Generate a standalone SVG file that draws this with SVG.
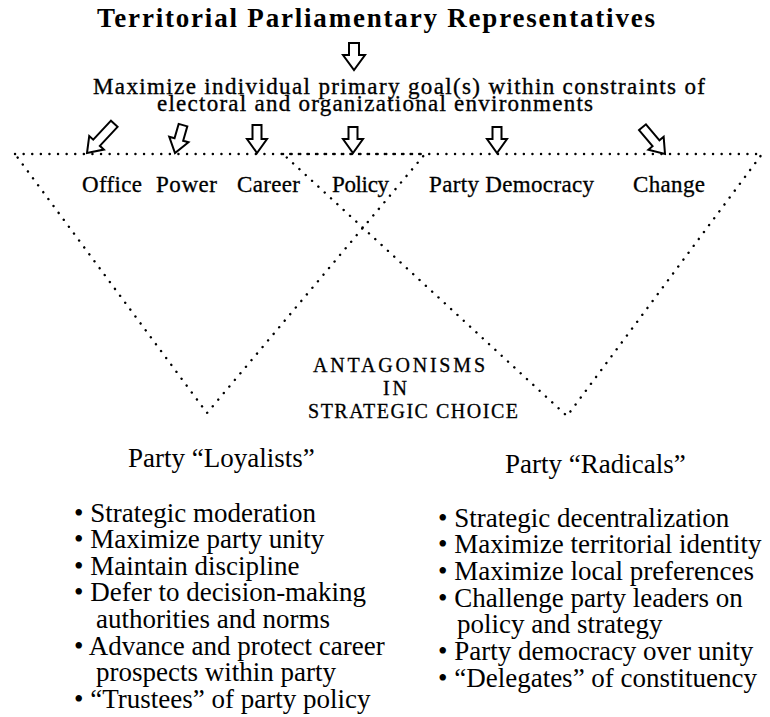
<svg xmlns="http://www.w3.org/2000/svg" width="770" height="717" viewBox="0 0 770 717">
<style>
  .title { font-family: "Liberation Serif", "Times New Roman", serif; font-weight: bold; font-size: 27px; fill: #000; }
  .head { font-family: "Liberation Serif", "Times New Roman", serif; font-size: 23px; fill: #000; stroke: #000; stroke-width: 0.35; }
  .goal { font-family: "Liberation Serif", "Times New Roman", serif; font-size: 23px; fill: #000; stroke: #000; stroke-width: 0.3; }
  .caps { font-family: "Liberation Serif", "Times New Roman", serif; font-size: 20px; fill: #000; stroke: #000; stroke-width: 0.3; }
  .body { font-family: "Liberation Serif", "Times New Roman", serif; font-size: 27px; fill: #000; }
  .tri { fill: none; stroke: #000; stroke-width: 2.4; stroke-linecap: round; stroke-dasharray: 0.1 8.5; }
  .arr { fill: #fff; stroke: #000; stroke-width: 2; stroke-linejoin: miter; }
</style>
<rect width="770" height="717" fill="#fff"/>

<g id="title">
  <text class="title" x="97" y="27" textLength="558" lengthAdjust="spacing">Territorial Parliamentary Representatives</text>
</g>

<g id="goal-statement">
  <text class="head" x="93" y="94" textLength="612" lengthAdjust="spacing">Maximize individual primary goal(s) within constraints of</text>
  <text class="head" x="157" y="111" textLength="436" lengthAdjust="spacing">electoral and organizational environments</text>
</g>

<g id="triangles">
  <polygon id="triangle-loyalists" class="tri" points="15,154 425,154 207,413"/>
  <polygon id="triangle-radicals" class="tri" points="283,154 762,154 567,416"/>
</g>

<g id="goals">
  <g id="goal-office"><text class="goal" x="82" y="192" textLength="60" lengthAdjust="spacing">Office</text></g>
  <g id="goal-power"><text class="goal" x="156" y="192" textLength="61" lengthAdjust="spacing">Power</text></g>
  <g id="goal-career"><text class="goal" x="237" y="192" textLength="63" lengthAdjust="spacing">Career</text></g>
  <g id="goal-policy"><text class="goal" x="332" y="192" textLength="57" lengthAdjust="spacing">Policy</text></g>
  <g id="goal-party-democracy"><text class="goal" x="429" y="192" textLength="165" lengthAdjust="spacing">Party Democracy</text></g>
  <g id="goal-change"><text class="goal" x="633" y="192" textLength="72" lengthAdjust="spacing">Change</text></g>
</g>

<g id="antagonisms">
  <text class="caps" x="313" y="372" textLength="172" lengthAdjust="spacing">ANTAGONISMS</text>
  <text class="caps" x="383" y="395" textLength="24" lengthAdjust="spacing">IN</text>
  <text class="caps" x="308" y="418" textLength="210" lengthAdjust="spacing">STRATEGIC CHOICE</text>
</g>

<g id="loyalists">
  <text class="body" x="128" y="467">Party “Loyalists”</text>
  <text class="body" x="74" y="522">• Strategic moderation</text>
  <text class="body" x="74" y="548">• Maximize party unity</text>
  <text class="body" x="74" y="575">• Maintain discipline</text>
  <text class="body" x="74" y="601">• Defer to decision-making</text>
  <text class="body" x="96" y="628">authorities and norms</text>
  <text class="body" x="74" y="655">• Advance and protect career</text>
  <text class="body" x="96" y="681">prospects within party</text>
  <text class="body" x="74" y="708">• “Trustees” of party policy</text>
</g>

<g id="radicals">
  <text class="body" x="505" y="473">Party “Radicals”</text>
  <text class="body" x="438" y="527">• Strategic decentralization</text>
  <text class="body" x="438" y="553">• Maximize territorial identity</text>
  <text class="body" x="438" y="580">• Maximize local preferences</text>
  <text class="body" x="438" y="607">• Challenge party leaders on</text>
  <text class="body" x="457" y="633">policy and strategy</text>
  <text class="body" x="438" y="660">• Party democracy over unity</text>
  <text class="body" x="438" y="687">• “Delegates” of constituency</text>
</g>

<g id="connectors">
  <path class="arr" transform="translate(354,70)" d="M-5,-27 H5 V-15 H11 L0,0 L-11,-15 H-5 Z"/>
  <path class="arr" transform="translate(87,153) rotate(43)" d="M-4.5,-40 H4.5 V-14 H10 L0,0 L-10,-14 H-4.5 Z"/>
  <path class="arr" transform="translate(175,153) rotate(16)" d="M-4.5,-29 H4.5 V-14 H10 L0,0 L-10,-14 H-4.5 Z"/>
  <path class="arr" transform="translate(257,153)" d="M-4.5,-28 H4.5 V-14 H10 L0,0 L-10,-14 H-4.5 Z"/>
  <path class="arr" transform="translate(353,153)" d="M-4.5,-26 H4.5 V-14 H10 L0,0 L-10,-14 H-4.5 Z"/>
  <path class="arr" transform="translate(497,153)" d="M-4.5,-26 H4.5 V-14 H10 L0,0 L-10,-14 H-4.5 Z"/>
  <path class="arr" transform="translate(665,154) rotate(-40)" d="M-4.5,-35 H4.5 V-14 H10 L0,0 L-10,-14 H-4.5 Z"/>
</g>
</svg>
